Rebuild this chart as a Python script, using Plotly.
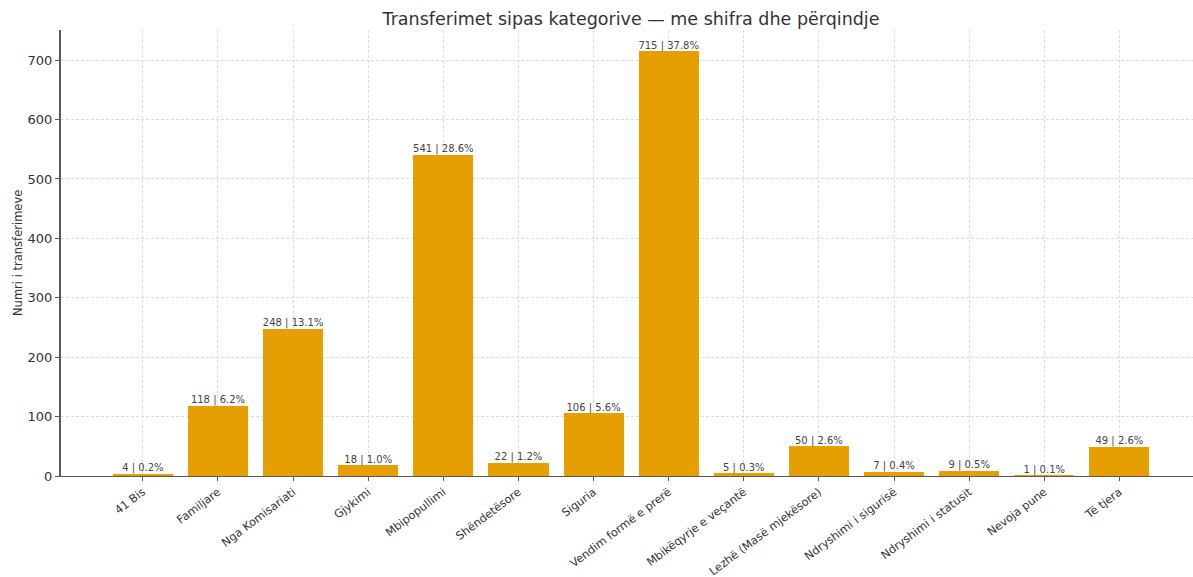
import plotly.graph_objects as go

# Transfer counts per category
categories = [
    "41 Bis", "Familjare", "Nga Komisariati", "Gjykimi", "Mbipopullimi",
    "Shëndetësore", "Siguria", "Vendim formë e prerë", "Mbikëqyrje e veçantë",
    "Lezhë (Masë mjekësore)", "Ndryshimi i sigurisë", "Ndryshimi i statusit",
    "Nevoja pune", "Të tjera",
]
counts = [4, 118, 248, 18, 541, 22, 106, 715, 5, 50, 7, 9, 1, 49]
y_ticks = [0, 100, 200, 300, 400, 500, 600, 700]

total = sum(counts)
labels = [f"{c} | {c / total * 100:.1f}%" for c in counts]

FONT = "DejaVu Sans"
BAR = "#E69F00"
GRID = "#dcdcdc"
SPINE = "#5a5a5a"

fig = go.Figure()
fig.add_trace(go.Bar(
    x=categories, y=counts, width=0.8,
    marker=dict(color=BAR, line=dict(width=0)),
    hoverinfo="skip",
))
fig.add_trace(go.Scatter(
    x=categories, y=counts, mode="text", text=labels,
    textposition="top center",
    textfont=dict(family=FONT, size=10, color="#444444"),
    cliponaxis=False, hoverinfo="skip",
))

fig.update_layout(
    width=1193, height=577,
    margin=dict(l=61, r=0, t=30, b=101, autoexpand=False),
    paper_bgcolor="white", plot_bgcolor="white",
    showlegend=False,
    font=dict(family=FONT, color="#333333"),
    title=dict(
        text="Transferimet sipas kategorive — me shifra dhe përqindje",
        x=631 / 1193, xanchor="center", y=1 - 19 / 577, yanchor="middle",
        font=dict(family=FONT, size=17.5, color="#333333"),
    ),
    bargap=0,
)
fig.update_xaxes(
    range=[-1.09, 13.98], automargin=False,
    showgrid=True, gridcolor=GRID, griddash="3px,2px", gridwidth=1,
    showline=True, linecolor=SPINE, linewidth=1.3,
    ticks="outside", ticklen=4, tickcolor=SPINE,
    tickangle=-37, tickfont=dict(family=FONT, size=11.3, color="#333333"),
    zeroline=False,
)
fig.update_yaxes(
    range=[0, 750.75], automargin=False,
    tickmode="array", tickvals=y_ticks,
    showgrid=True, gridcolor=GRID, griddash="3px,2px", gridwidth=1,
    showline=True, linecolor=SPINE, linewidth=2,
    ticks="outside", ticklen=4, tickcolor=SPINE,
    tickfont=dict(family=FONT, size=13, color="#333333"),
    zeroline=False,
)
fig.add_annotation(
    text="Numri i transferimeve", xref="paper", yref="paper",
    x=(18 - 61) / 1132, y=(476 - 253) / 446, xanchor="center", yanchor="middle",
    textangle=-90, showarrow=False,
    font=dict(family=FONT, size=11.5, color="#333333"),
)

fig.write_html("out.html")
